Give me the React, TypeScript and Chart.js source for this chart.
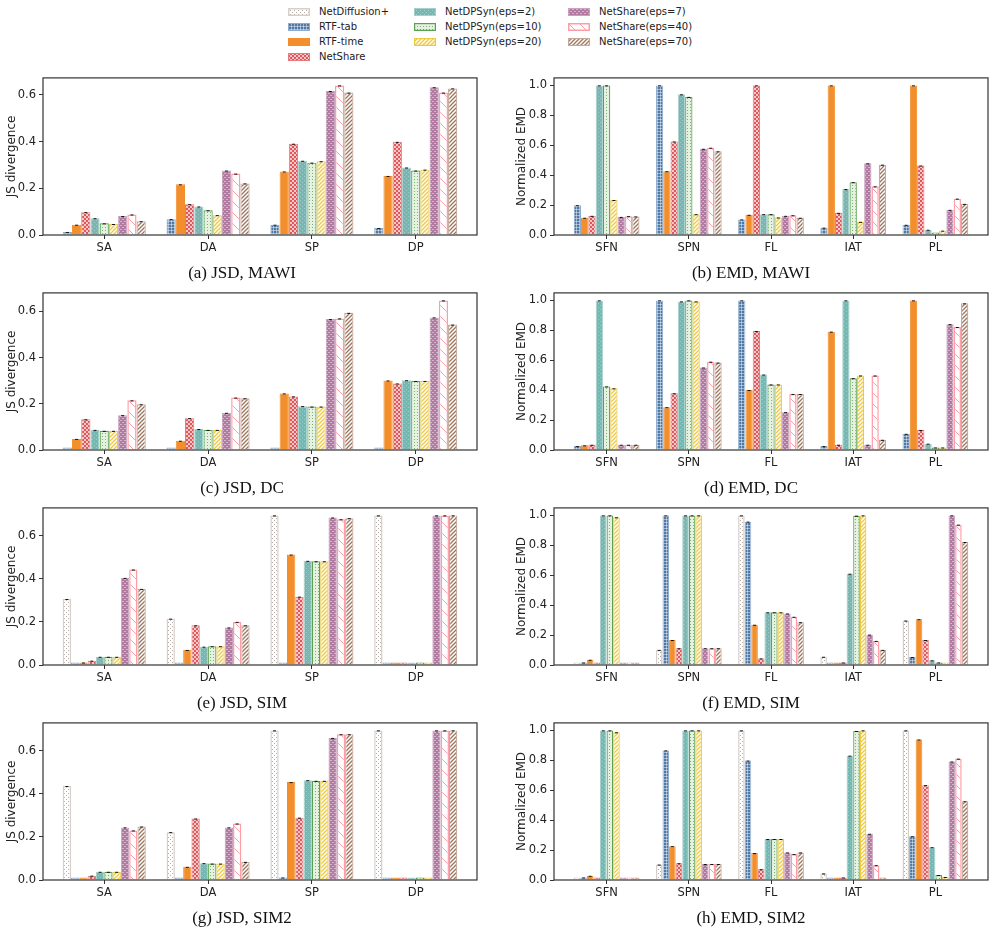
import React, { useEffect, useRef } from "react";
import { Chart, registerables } from "chart.js";
Chart.register(...registerables);

const seriesNames = [
  "NetDiffusion+", "RTF-tab", "RTF-time", "NetShare",
  "NetDPSyn(eps=2)", "NetDPSyn(eps=10)", "NetDPSyn(eps=20)",
  "NetShare(eps=7)", "NetShare(eps=40)", "NetShare(eps=70)",
];
const jsdCategories = ["SA", "DA", "SP", "DP"];
const emdCategories = ["SFN", "SPN", "FL", "IAT", "PL"];

// MAWI / DC: rows = RTF-tab .. NetShare(eps=70) (no NetDiffusion+)
const jsdMawi = [
  [0.013, 0.068, 0.044, 0.030],
  [0.044, 0.217, 0.272, 0.253],
  [0.098, 0.132, 0.391, 0.399],
  [0.072, 0.122, 0.318, 0.289],
  [0.050, 0.106, 0.310, 0.276],
  [0.047, 0.085, 0.316, 0.280],
  [0.081, 0.276, 0.617, 0.633],
  [0.088, 0.263, 0.641, 0.610],
  [0.059, 0.221, 0.610, 0.628],
];
const emdMawi = [
  [0.199, 1.0, 0.104, 0.049, 0.068],
  [0.115, 0.426, 0.135, 1.0, 1.0],
  [0.128, 0.625, 1.0, 0.148, 0.464],
  [1.0, 0.94, 0.139, 0.307, 0.035],
  [1.0, 0.923, 0.139, 0.353, 0.002],
  [0.234, 0.139, 0.117, 0.088, 0.029],
  [0.121, 0.576, 0.128, 0.479, 0.168],
  [0.126, 0.583, 0.132, 0.325, 0.243],
  [0.124, 0.559, 0.115, 0.470, 0.208],
];
const jsdDc = [
  [0.003, 0.001, 0.004, 0.004],
  [0.048, 0.040, 0.245, 0.301],
  [0.133, 0.138, 0.232, 0.288],
  [0.087, 0.091, 0.190, 0.302],
  [0.083, 0.087, 0.188, 0.299],
  [0.083, 0.087, 0.188, 0.299],
  [0.151, 0.161, 0.567, 0.574],
  [0.215, 0.227, 0.570, 0.648],
  [0.198, 0.224, 0.594, 0.543],
];
const emdDc = [
  [0.026, 1.0, 1.0, 0.026, 0.108],
  [0.031, 0.286, 0.401, 0.791, 1.0],
  [0.035, 0.379, 0.795, 0.035, 0.134],
  [1.0, 0.993, 0.504, 1.0, 0.042],
  [0.425, 1.0, 0.438, 0.480, 0.015],
  [0.412, 0.993, 0.438, 0.498, 0.009],
  [0.035, 0.551, 0.253, 0.035, 0.841],
  [0.035, 0.590, 0.374, 0.498, 0.822],
  [0.035, 0.584, 0.374, 0.068, 0.980],
];
// SIM / SIM2: rows = NetDiffusion+ .. NetShare(eps=70)
const jsdSim = [
  [0.306, 0.215, 0.694, 0.694],
  [0.001, 0.003, 0.005, 0.0005],
  [0.009, 0.070, 0.512, 0.001],
  [0.020, 0.184, 0.317, 0.005],
  [0.038, 0.085, 0.483, 0.0005],
  [0.038, 0.087, 0.481, 0.0005],
  [0.038, 0.087, 0.481, 0.0005],
  [0.404, 0.174, 0.684, 0.694],
  [0.443, 0.200, 0.676, 0.694],
  [0.353, 0.184, 0.681, 0.694],
];
const emdSim = [
  [0.004, 0.101, 1.0, 0.055, 0.297],
  [0.009, 1.0, 0.958, 0.006, 0.053],
  [0.035, 0.167, 0.269, 0.005, 0.306],
  [0.006, 0.112, 0.044, 0.013, 0.167],
  [1.0, 1.0, 0.352, 0.610, 0.031],
  [1.0, 1.0, 0.352, 0.998, 0.011],
  [0.987, 1.0, 0.352, 1.0, 0.006],
  [0.006, 0.112, 0.344, 0.203, 1.0],
  [0.006, 0.112, 0.322, 0.161, 0.938],
  [0.006, 0.112, 0.286, 0.101, 0.822],
];
const jsdSim2 = [
  [0.436, 0.222, 0.694, 0.694],
  [0.003, 0.005, 0.008, 0.002],
  [0.005, 0.061, 0.454, 0.003],
  [0.020, 0.285, 0.289, 0.005],
  [0.038, 0.078, 0.463, 0.002],
  [0.038, 0.076, 0.460, 0.002],
  [0.038, 0.076, 0.460, 0.002],
  [0.244, 0.244, 0.659, 0.694],
  [0.230, 0.262, 0.676, 0.694],
  [0.248, 0.084, 0.676, 0.694],
];
const emdSim2 = [
  [0.003, 0.103, 1.0, 0.044, 1.0],
  [0.009, 0.866, 0.798, 0.004, 0.292],
  [0.028, 0.226, 0.180, 0.004, 0.939],
  [0.006, 0.112, 0.072, 0.009, 0.634],
  [1.0, 1.0, 0.274, 0.831, 0.219],
  [1.0, 1.0, 0.274, 0.996, 0.033],
  [0.987, 1.0, 0.274, 1.0, 0.020],
  [0.005, 0.107, 0.184, 0.309, 0.792],
  [0.005, 0.107, 0.173, 0.099, 0.811],
  [0.005, 0.107, 0.184, 0.004, 0.526],
];

type PanelDef = {
  rows: number[][]; cats: string[]; firstSeries: number; yLabel: string;
  caption: string; col: number; row: number;
};
const panels: PanelDef[] = [
  { rows: jsdMawi, cats: jsdCategories, firstSeries: 1, yLabel: "JS divergence", caption: "(a) JSD, MAWI", col: 0, row: 0 },
  { rows: emdMawi, cats: emdCategories, firstSeries: 1, yLabel: "Normalized EMD", caption: "(b) EMD, MAWI", col: 1, row: 0 },
  { rows: jsdDc, cats: jsdCategories, firstSeries: 1, yLabel: "JS divergence", caption: "(c) JSD, DC", col: 0, row: 1 },
  { rows: emdDc, cats: emdCategories, firstSeries: 1, yLabel: "Normalized EMD", caption: "(d) EMD, DC", col: 1, row: 1 },
  { rows: jsdSim, cats: jsdCategories, firstSeries: 0, yLabel: "JS divergence", caption: "(e) JSD, SIM", col: 0, row: 2 },
  { rows: emdSim, cats: emdCategories, firstSeries: 0, yLabel: "Normalized EMD", caption: "(f) EMD, SIM", col: 1, row: 2 },
  { rows: jsdSim2, cats: jsdCategories, firstSeries: 0, yLabel: "JS divergence", caption: "(g) JSD, SIM2", col: 0, row: 3 },
  { rows: emdSim2, cats: emdCategories, firstSeries: 0, yLabel: "Normalized EMD", caption: "(h) EMD, SIM2", col: 1, row: 3 },
];

// ---------- styles ----------
function tile(size: number, draw: (c: CanvasRenderingContext2D, s: number) => void): CanvasPattern {
  const cv = document.createElement("canvas");
  cv.width = size; cv.height = size;
  const c = cv.getContext("2d")!;
  draw(c, size);
  return c.createPattern(cv, "repeat")!;
}
function diag(c: CanvasRenderingContext2D, s: number, color: string, w: number, dir: number) {
  c.strokeStyle = color; c.lineWidth = w; c.beginPath();
  if (dir > 0) {
    c.moveTo(-1, s + 1); c.lineTo(s + 1, -1);
    c.moveTo(-s / 2 - 1, s / 2 + 1); c.lineTo(s / 2 + 1, -s / 2 - 1);
    c.moveTo(s / 2 - 1, 1.5 * s + 1); c.lineTo(1.5 * s + 1, s / 2 - 1);
  } else {
    c.moveTo(-1, -1); c.lineTo(s + 1, s + 1);
    c.moveTo(-s / 2 - 1, s / 2 - 1); c.lineTo(s / 2 + 1, 1.5 * s + 1);
    c.moveTo(s / 2 - 1, -s / 2 - 1); c.lineTo(1.5 * s + 1, s / 2 + 1);
  }
  c.stroke();
}

type Style = { fill: () => CanvasPattern | string; border: string; bw: number };
const styles: Style[] = [
  { fill: () => tile(4, (c, s) => { c.fillStyle = "#ffffff"; c.fillRect(0, 0, s, s); c.fillStyle = "#b3aaa5"; c.fillRect(0, 0, 1, 1); c.fillRect(2, 2, 1, 1); }), border: "#d6cfcb", bw: 1.5 },
  { fill: () => tile(3, (c, s) => { c.fillStyle = "#4E79A7"; c.fillRect(0, 0, s, s); c.fillStyle = "rgba(255,255,255,0.45)"; c.fillRect(0, 0, s, 1); c.fillRect(0, 0, 1, s); }), border: "#8fabcb", bw: 1 },
  { fill: () => "#F28E2B", border: "#F28E2B", bw: 1 },
  { fill: () => tile(4, (c, s) => { c.fillStyle = "#E15759"; c.fillRect(0, 0, s, s); c.fillStyle = "rgba(255,255,255,0.68)"; c.fillRect(0, 0, 2, 2); c.fillRect(2, 2, 2, 2); }), border: "#e47a7c", bw: 1 },
  { fill: () => tile(4, (c, s) => { c.fillStyle = "#76B7B2"; c.fillRect(0, 0, s, s); c.fillStyle = "rgba(255,255,255,0.3)"; c.fillRect(0, 0, 1, 1); c.fillRect(2, 2, 1, 1); }), border: "#a6d0cd", bw: 1 },
  { fill: () => tile(3, (c, s) => { c.fillStyle = "#e6f1e2"; c.fillRect(0, 0, s, s); c.fillStyle = "#7ab56f"; c.fillRect(0, 0, 1, 1); }), border: "#59A14F", bw: 1.2 },
  { fill: () => tile(4, (c, s) => { c.fillStyle = "#fffdf2"; c.fillRect(0, 0, s, s); diag(c, s, "#EDC948", 1.3, 1); }), border: "#EDC948", bw: 1.2 },
  { fill: () => tile(4, (c, s) => { c.fillStyle = "#B07AA1"; c.fillRect(0, 0, s, s); c.fillStyle = "rgba(255,255,255,0.45)"; c.fillRect(0, 1, 2, 1); c.fillRect(2, 3, 2, 1); }), border: "#c9a2be", bw: 1 },
  { fill: () => tile(11, (c, s) => { c.fillStyle = "#ffffff"; c.fillRect(0, 0, s, s); diag(c, s, "#FF9DA7", 1, -1); }), border: "#FF9DA7", bw: 1.5 },
  { fill: () => tile(4, (c, s) => { c.fillStyle = "#ffffff"; c.fillRect(0, 0, s, s); diag(c, s, "#9C755F", 1.3, 1); }), border: "#c4a898", bw: 1.2 },
];

// ---------- plugins ----------
const framePlugin = {
  id: "frame",
  afterDatasetsDraw(chart: any) {
    const { ctx, chartArea: a } = chart;
    ctx.save();
    ctx.strokeStyle = "#333";
    ctx.lineWidth = 1.2;
    ctx.strokeRect(a.left, a.top, a.right - a.left, a.bottom - a.top);
    ctx.restore();
  },
};
const capPlugin = {
  id: "caps",
  afterDatasetsDraw(chart: any) {
    const ctx = chart.ctx;
    ctx.save();
    ctx.strokeStyle = "#111";
    ctx.lineWidth = 1;
    chart.data.datasets.forEach((ds: any, i: number) => {
      const meta = chart.getDatasetMeta(i);
      meta.data.forEach((el: any, j: number) => {
        if (ds.data[j].y < 0.008) return;
        ctx.beginPath();
        ctx.moveTo(el.x - 1.5, el.y + 0.5);
        ctx.lineTo(el.x + 1.5, el.y + 0.5);
        ctx.stroke();
      });
    });
    ctx.restore();
  },
};

const PLOT_TOPS = [76, 291, 506, 721];
const PLOT_H = 159;
const COL_CANVAS_LEFT = [0, 510];
const COL_CANVAS_W = [495, 485];
const COL_AXIS_W = [43, 44];
const COL_PAD_RIGHT = [18, 7];
const CAPTION_X = [242, 751];
const CAPTION_Y = [273, 488, 703, 918];
const TOP_PAD = 8;
const X_AXIS_H = 28;
const FONT = "'DejaVu Sans', sans-serif";

function Panel({ p }: { p: PanelDef }) {
  const ref = useRef<HTMLCanvasElement>(null);
  const w = COL_CANVAS_W[p.col];
  const h = TOP_PAD + PLOT_H + X_AXIS_H;
  useEffect(() => {
    const n = p.cats.length;
    const margin = 0.05 * (n - 1 + 0.8);
    const allVals = p.rows.flat();
    const yMax = Math.max(...allVals) * 1.05;
    const datasets = p.rows.map((row, k) => {
      const st = styles[k + p.firstSeries];
      return {
        label: seriesNames[k + p.firstSeries],
        data: row.map((v, i) => ({ x: i, y: v })),
        backgroundColor: st.fill(),
        borderColor: st.border,
        borderWidth: st.bw,
        minBarLength: 2.5,
        categoryPercentage: 0.8,
        barPercentage: 1.0,
      };
    });
    const chart = new Chart(ref.current!, {
      type: "bar",
      data: { datasets } as any,
      plugins: [framePlugin, capPlugin],
      options: {
        animation: false,
        responsive: false,
        maintainAspectRatio: false,
        layout: { padding: { left: 0, right: COL_PAD_RIGHT[p.col], top: TOP_PAD, bottom: 0 } },
        plugins: { legend: { display: false }, tooltip: { enabled: false } },
        scales: {
          x: {
            type: "linear",
            min: -0.4 - margin,
            max: n - 1 + 0.4 + margin,
            offset: false,
            bounds: "data",
            grid: { display: true, drawOnChartArea: false, drawTicks: true, tickLength: 4, color: "#333", offset: false },
            border: { display: false },
            afterBuildTicks: (s: any) => { s.ticks = p.cats.map((_, i) => ({ value: i })); },
            afterFit: (s: any) => { s.height = X_AXIS_H; },
            ticks: {
              autoSkip: false, maxRotation: 0, padding: 2, color: "#222",
              font: { family: FONT, size: 11.5 },
              callback: (v: any) => p.cats[Math.round(Number(v))] ?? "",
            },
          },
          y: {
            type: "linear",
            min: 0,
            max: yMax,
            grid: { display: true, drawOnChartArea: false, drawTicks: true, tickLength: 4, color: "#333" },
            border: { display: false },
            afterFit: (s: any) => { s.width = COL_AXIS_W[p.col]; },
            title: { display: true, text: p.yLabel, color: "#222", font: { family: FONT, size: 12 }, padding: { top: 5, bottom: 0 } },
            ticks: {
              stepSize: 0.2, includeBounds: false, padding: 3, color: "#222",
              font: { family: FONT, size: 11.5 },
              callback: (v: any) => Number(v).toFixed(1),
            },
          },
        },
      } as any,
    });
    return () => chart.destroy();
  }, []);
  return (
    <canvas
      ref={ref}
      width={w}
      height={h}
      style={{ position: "absolute", left: COL_CANVAS_LEFT[p.col], top: PLOT_TOPS[p.row] - TOP_PAD, width: w, height: h }}
    />
  );
}

function Swatch({ k }: { k: number }) {
  const ref = useRef<HTMLCanvasElement>(null);
  useEffect(() => {
    const c = ref.current!.getContext("2d")!;
    const st = styles[k];
    c.clearRect(0, 0, 22, 8);
    c.fillStyle = st.fill() as any;
    c.fillRect(0, 0, 22, 8);
    c.strokeStyle = st.border;
    c.lineWidth = st.bw;
    c.strokeRect(st.bw / 2, st.bw / 2, 22 - st.bw, 8 - st.bw);
  }, []);
  return <canvas ref={ref} width={22} height={8} style={{ position: "absolute", left: 0, top: -4, width: 22, height: 8 }} />;
}

const LEGEND_COL_X = [288, 414, 568];
const LEGEND_ROW_Y = [11.5, 26.7, 42, 57.2];
const LEGEND_COLS = [[0, 1, 2, 3], [4, 5, 6], [7, 8, 9]];

export default function App() {
  return (
    <div style={{ position: "absolute", left: 0, top: 0, width: 995, height: 935, background: "#fff", overflow: "hidden" }}>
      {LEGEND_COLS.map((col, ci) =>
        col.map((k, ri) => (
          <div key={k} style={{ position: "absolute", left: LEGEND_COL_X[ci], top: LEGEND_ROW_Y[ri], height: 0 }}>
            <Swatch k={k} />
            <span style={{ position: "absolute", left: 31, top: -7, fontFamily: FONT, fontSize: 10, lineHeight: "13px", color: "#222", whiteSpace: "nowrap" }}>
              {seriesNames[k]}
            </span>
          </div>
        ))
      )}
      {panels.map((p, i) => <Panel key={i} p={p} />)}
      {panels.map((p, i) => (
        <div key={"c" + i} style={{ position: "absolute", left: CAPTION_X[p.col] - 150, width: 300, top: CAPTION_Y[p.row] - 11, textAlign: "center", fontFamily: "'Liberation Serif', 'Times New Roman', serif", fontSize: 17, lineHeight: "22px", color: "#111" }}>
          {p.caption}
        </div>
      ))}
    </div>
  );
}
